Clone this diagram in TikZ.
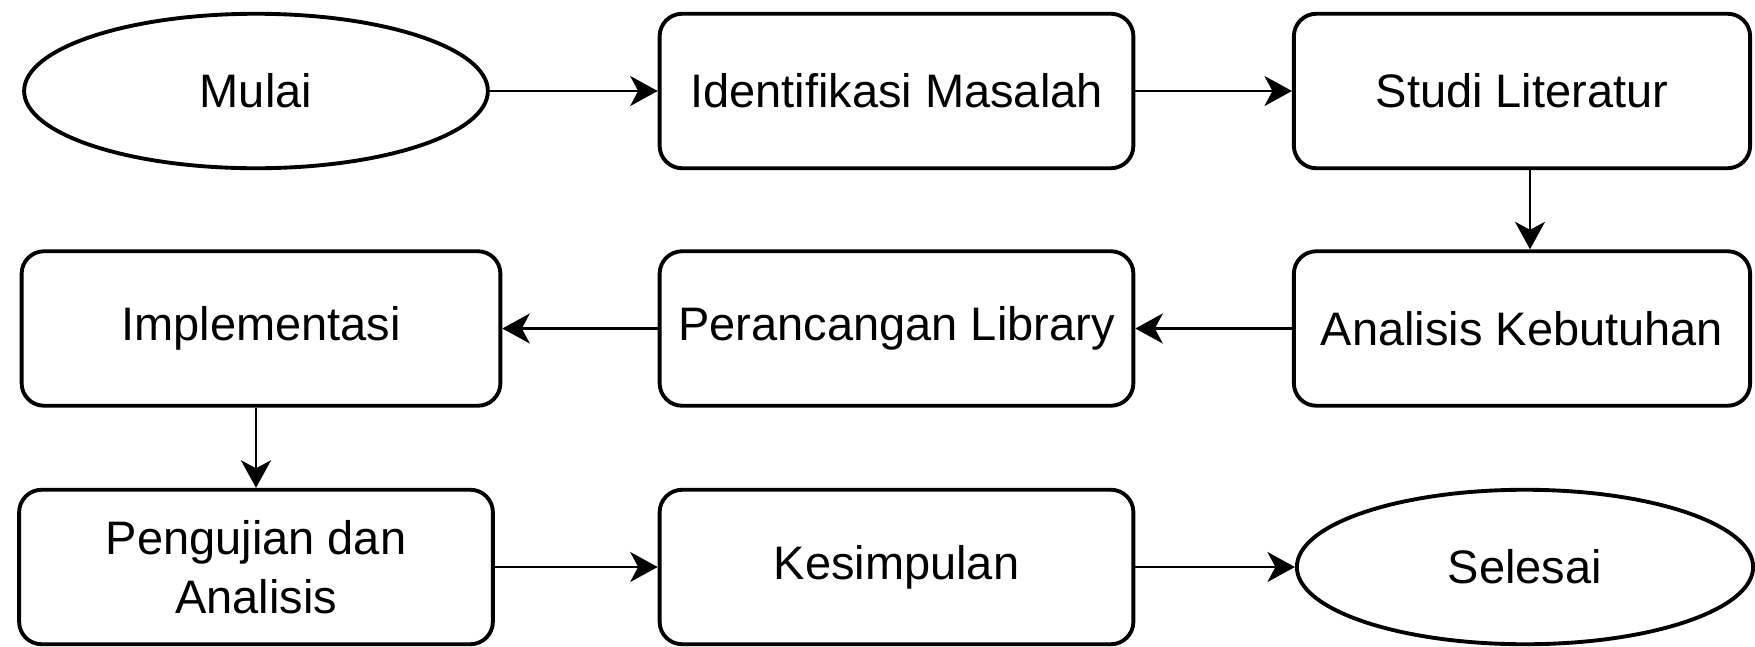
\documentclass[tikz,border=0pt]{standalone}
\usepackage{fontspec}
\setmainfont{Liberation Sans}
\usetikzlibrary{shapes.geometric,arrows.meta}

\tikzset{
  base/.style={draw=black, line width=1.55pt, fill=white, inner sep=2pt,
    align=center, font=\fontsize{18.8}{23.6}\selectfont},
  stepbox/.style={base, rectangle, rounded corners=9pt,
    minimum width=189.5pt, minimum height=61.8pt},
  terminal/.style={base, ellipse, minimum width=185.5pt, minimum height=61.8pt},
  flow/.style={draw=black, line width=1pt,
    -{Stealth[length=11pt, width=12pt, inset=3.2pt]}}
}

\begin{document}
\begin{tikzpicture}[x=0.4pt, y=-0.4pt]
  \useasboundingbox (0,0) rectangle (1755,647);

  % first row
  \node[terminal] (mulai) at (256,91) {Mulai};
  \node[stepbox] (ident) at (896.5,91) {Identifikasi Masalah};
  \node[stepbox, minimum width=182.5pt] (studi) at (1522,91) {Studi Literatur};

  % second row
  \node[stepbox, minimum width=182.5pt] (analisis) at (1522,328.5) {Analisis Kebutuhan};
  \node[stepbox] (rancang) at (896.5,328.5) {Perancangan Library};
  \node[stepbox, minimum width=191.5pt] (impl) at (261,328.5) {Implementasi};

  % third row
  \node[stepbox] (uji) at (256,567) {Pengujian dan\\Analisis};
  \node[stepbox] (simpul) at (896.5,567) {Kesimpulan};
  \node[terminal, minimum width=182.5pt] (selesai) at (1525,567) {Selesai};

  % connectors
  \draw[flow] (mulai) -- (ident);
  \draw[flow] (ident) -- (studi);
  \draw[flow] ([xshift=3.2pt]studi.south) -- ([xshift=3.2pt]analisis.north);
  \draw[flow] (analisis) -- (rancang);
  \draw[flow] (rancang) -- (impl);
  \draw[flow] (impl.south -| uji.north) -- (uji.north);
  \draw[flow] (uji) -- (simpul);
  \draw[flow] (simpul) -- (selesai);
\end{tikzpicture}
\end{document}
